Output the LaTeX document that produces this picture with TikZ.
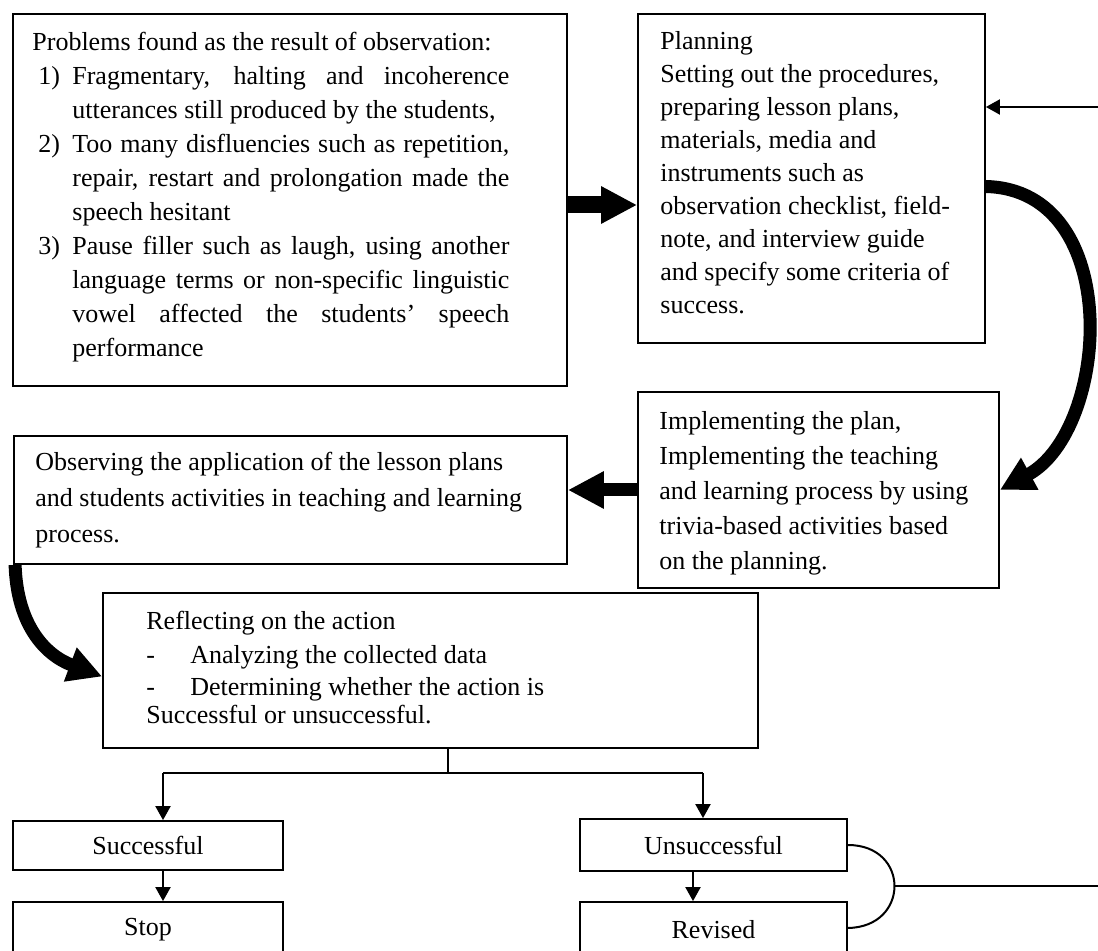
\documentclass[tikz,border=0pt]{standalone}
\usepackage{fontspec}
\setmainfont{Liberation Serif}
\usetikzlibrary{arrows.meta}

% numbered point with hanging indent
\newcommand\probitem[1]{\hangindent=20pt\hangafter=1\noindent\makebox[20pt][l]{\hspace{3pt}#1}}
\newcommand\dashitem{\makebox[22pt][l]{-}}

\begin{document}
\begin{tikzpicture}[x=0.5pt,y=-0.5pt,
    frame/.style={draw,line width=0.9pt,inner sep=0pt,font=\fontsize{13}{15}\selectfont},
    txt/.style={anchor=north west,inner sep=0pt,align=left},
    thinarrow/.style={-{Triangle[length=7pt,width=7.5pt]},line width=1pt},
    fatarrow/.style={-{Triangle[length=18pt,width=17.5pt]},line width=#1},
    bendarrow/.style={-{Triangle[length=17pt,width=17pt]},line width=6.5pt}]

    \useasboundingbox (0,0) rectangle (1098,951);
    \clip (0,0) rectangle (1098,951);

    % boxes
    \node[frame,minimum width=277pt,minimum height=186pt] (prob) at (290,200) {};
    \node[frame,minimum width=173.5pt,minimum height=164.5pt] (plan) at (811.5,178.5) {};
    \node[frame,minimum width=180.5pt,minimum height=98pt] (impl) at (818.5,490) {};
    \node[frame,minimum width=276.5pt,minimum height=64pt] (obs) at (290.5,500) {};
    \node[frame,minimum width=327.5pt,minimum height=77.5pt] (refl) at (430.5,670.5) {};
    \node[frame,minimum width=135pt,minimum height=24.5pt] (succ) at (148,845.5) {Successful};
    \node[frame,minimum width=135pt,minimum height=28pt] (stop) at (148,930) {Stop};
    \node[frame,minimum width=133.5pt,minimum height=26pt] (unsucc) at (713.5,845) {Unsuccessful};
    \node[frame,minimum width=133.5pt,minimum height=28pt] (rev) at (713.5,930) {Revised};

    % texts
    \node[txt,text width=238.5pt,align=justify,
      font=\fontsize{13}{17}\selectfont] (probtxt) at (32,32) {%
      \tolerance=10000\hbadness=10000
      \noindent Problems found as the result of observation:\par
      \probitem{1)}Fragmentary, halting and incoherence\linebreak utterances still produced by the students,\par
      \probitem{2)}Too many disfluencies such as repetition,\linebreak repair, restart and prolongation made the\linebreak speech hesitant\par
      \probitem{3)}Pause filler such as laugh, using another\linebreak language terms or non-specific linguistic\linebreak vowel affected the students' speech\linebreak performance\par};
    \node[txt,font=\fontsize{13}{16.5}\selectfont] (plantxt) at (660,31) {%
      Planning\\
      Setting out the procedures,\\
      preparing lesson plans,\\
      materials, media and\\
      instruments such as\\
      observation checklist, field-\\
      note, and interview guide\\
      and specify some criteria of\\
      success.};
    \node[txt,font=\fontsize{13}{17.5}\selectfont] (impltxt) at (659,411) {%
      Implementing the plan,\\
      Implementing the teaching\\
      and learning process by using\\
      trivia-based activities based\\
      on the planning.};
    \node[txt,font=\fontsize{13}{18}\selectfont] (obstxt) at (35,452) {%
      Observing the application of the lesson plans\\
      and students activities in teaching and learning\\
      process.};
    \node[txt,font=\fontsize{13}{15}\selectfont] (refltxt) at (146,611) {%
      Reflecting on the action\\[2pt]
      \dashitem Analyzing the collected data\\[1pt]
      \dashitem Determining whether the action is\\[-1pt]
      Successful or unsuccessful.};

    % thick arrows of the cycle
    \draw[fatarrow=8.5pt] ([yshift=-2.5pt]prob.east) -- ([yshift=-2.5pt]prob.east -| plan.west);
    \draw[bendarrow] ([yshift=-4pt]plan.east) .. controls (1125,190) and (1110,430) .. (impl.east);
    \draw[fatarrow=6.5pt] (impl.west) -- (impl.west -| obs.east);
    \draw[bendarrow] ([xshift=1pt]obs.south west) .. controls (17,625) and (45,655) .. ([yshift=-3pt]refl.west);

    % split after reflecting
    \coordinate (split) at (448,773);
    \coordinate (lft) at (163,773);
    \coordinate (rgt) at (703,773);
    \draw[line width=1pt] (split |- refl.south) -- (split);
    \draw[line width=1pt] (lft) -- (rgt);
    \draw[thinarrow] (lft) -- (lft |- succ.north);
    \draw[thinarrow] (rgt) -- (rgt |- unsucc.north);
    \draw[thinarrow] (succ.south -| lft) -- (stop.north -| lft);
    \draw[thinarrow] ([xshift=-5pt]unsucc.south -| rgt) -- ([xshift=-5pt]rev.north -| rgt);

    % back to planning
    \coordinate (bulge) at (894,886);
    \coordinate (ret) at (1098,886);
    \coordinate (back) at (1098,107);
    \draw[line width=1pt] (unsucc.east) .. controls (910,845) and (910,927) .. ([yshift=1pt]rev.east);
    \draw[line width=1pt] (bulge) -- (ret);
    \draw[thinarrow] (back) -- (back -| plan.east);
\end{tikzpicture}
\end{document}
